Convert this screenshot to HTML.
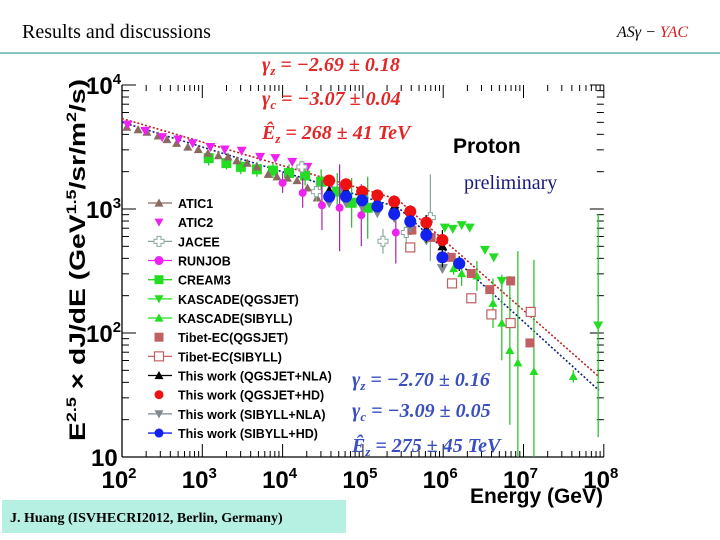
<!DOCTYPE html>
<html><head><meta charset="utf-8">
<style>
body{margin:0;background:#fff;}
#wrap{position:relative;width:720px;height:540px;overflow:hidden;background:#fff;font-family:"Liberation Sans",sans-serif;}
svg text{font-family:"Liberation Sans",sans-serif;}
svg text.serif, svg .serif text{font-family:"Liberation Serif",serif;}
</style></head><body>
<div id="wrap">
<svg id="chart" width="720" height="540" viewBox="0 0 720 540" xmlns="http://www.w3.org/2000/svg">
<text class="serif" x="22" y="38" font-size="20" fill="#000">Results and discussions</text>
<text class="serif" x="617" y="37" font-size="16" font-style="italic"><tspan fill="#000">ASγ − </tspan><tspan fill="#d02020">YAC</tspan></text>
<line x1="0" y1="53" x2="720" y2="53" stroke="#5fb5a8" stroke-width="1.5"/>
<g id="axes"></g>
<g id="fits"></g>
<g id="marks"></g>
<g id="legend"></g>
<g class="serif" font-size="20" font-weight="bold" font-style="italic" fill="#e02828">
<text x="262" y="71">γ<tspan font-size="13" dy="4">z</tspan><tspan dy="-4"> = −2.69 ± 0.18</tspan></text>
<text x="262" y="105">γ<tspan font-size="13" dy="4">c</tspan><tspan dy="-4"> = −3.07 ± 0.04</tspan></text>
<text x="262" y="139">Ê<tspan font-size="13" dy="4">z</tspan><tspan dy="-4"> = 268 ± 41 TeV</tspan></text>
</g>
<g class="serif" font-size="20" font-weight="bold" font-style="italic" fill="#3a4fc0">
<text x="352" y="386">γ<tspan font-size="13" dy="4">z</tspan><tspan dy="-4"> = −2.70 ± 0.16</tspan></text>
<text x="352" y="417">γ<tspan font-size="13" dy="4">c</tspan><tspan dy="-4"> = −3.09 ± 0.05</tspan></text>
<text x="352" y="452">Ê<tspan font-size="13" dy="4">z</tspan><tspan dy="-4"> = 275 ± 45 TeV</tspan></text>
</g>
<text x="453" y="153" font-size="21" font-weight="bold" fill="#000">Proton</text>
<text class="serif" x="464" y="189" font-size="20" fill="#1a1a7a">preliminary</text>
<text x="603" y="503" text-anchor="end" font-size="21" font-weight="bold">Energy (GeV)</text>
<text transform="translate(85,260) rotate(-90)" text-anchor="middle" font-size="22" font-weight="bold" textLength="362" lengthAdjust="spacingAndGlyphs">E<tspan font-size="14" dy="-9">2.5</tspan><tspan dy="9"> × dJ/dE (GeV</tspan><tspan font-size="14" dy="-9">1.5</tspan><tspan dy="9">/sr/m</tspan><tspan font-size="14" dy="-9">2</tspan><tspan dy="9">/s)</tspan></text>
<rect x="2" y="500" width="344" height="33" fill="#b6f0e2"/>
<text class="serif" x="10" y="522" font-size="14" font-weight="bold">J. Huang (ISVHECRI2012, Berlin, Germany)</text>
</svg>
</div>
<script>
// axis ranges (log10)
const xDecades = [2,3,4,5,6,7,8];
const yDecades = [1,2,3,4];
// data in log10(E/GeV), log10(flux)
const atic1E = [2.06,2.20,2.31,2.45,2.56,2.68,2.82,2.95,3.07,3.20,3.32,3.43,3.56,3.68,3.82,3.93,4.06,4.18,4.31,4.43];
const atic1F = [3.66,3.64,3.62,3.59,3.56,3.53,3.50,3.48,3.45,3.43,3.42,3.39,3.37,3.34,3.28,3.26,3.25,3.23,3.17,3.09];
const atic2E = [2.07,2.29,2.50,2.70,2.88,3.10,3.28,3.49,3.72,3.91,4.12,4.31,4.60,4.75];
const atic2F = [3.68,3.63,3.58,3.56,3.53,3.50,3.48,3.47,3.42,3.41,3.38,3.34,3.20,3.17];
const jaceeE = [4.24,4.42,5.25,5.54,5.84];
const jaceeF = [3.34,3.14,2.74,2.81,2.93];
const runjobE = [4.00,4.25,4.49,4.71,4.98,5.41];
const runjobF = [3.21,3.13,3.03,3.01,2.95,2.81];
const runjobErr = [0.08,0.12,0.20,0.35,0.25,0.25];
const cream3E = [3.08,3.30,3.48,3.68,3.88,4.08,4.28,4.48,4.68,4.86,5.06];
const cream3F = [3.41,3.37,3.34,3.32,3.31,3.29,3.27,3.22,3.14,3.05,3.01];
const cream3Err = [0.06,0.05,0.06,0.06,0.06,0.07,0.08,0.10,0.15,0.20,0.25];
const kqE = [6.02,6.12,6.23,6.33,6.52,6.63,6.73,7.93];
const kqF = [2.85,2.84,2.87,2.85,2.67,2.61,2.42,2.06];
const kqErr = [0.02,0.02,0.02,0.02,0.03,0.03,0.05,0.9];
const ksE = [6.13,6.23,6.42,6.62,6.73,6.83,6.93,7.13,7.62];
const ksF = [2.52,2.48,2.46,2.24,2.08,1.86,1.76,1.69,1.65];
const ksErr = [0.05,0.1,0.12,0.2,0.3,0.6,0.9,0.9,0.05];
const tqE = [5.61,5.85,6.10,6.35,6.58,6.84,7.08];
const tqF = [2.83,2.77,2.61,2.48,2.35,2.42,1.92];
const tsE = [5.59,6.11,6.35,6.60,6.84,7.09];
const tsF = [2.69,2.40,2.28,2.15,2.08,2.17];
const thisE = [4.58,4.79,4.99,5.18,5.39,5.59,5.79,5.99];
const qnlaF = [3.15,3.15,3.10,3.07,3.02,2.95,2.84,2.70];
const qhdF = [3.23,3.20,3.14,3.11,3.06,2.98,2.89,2.75];
const snlaF = [3.05,3.05,3.02,2.97,2.93,2.85,2.75,2.52];
const shdE = [4.58,4.79,4.99,5.18,5.39,5.59,5.79,5.99,6.20];
const shdF = [3.10,3.10,3.07,3.02,2.96,2.90,2.79,2.61,2.56];
const thisErr = [0.04,0.04,0.04,0.04,0.05,0.05,0.06,0.08];
// broken power-law fits: [logF at 10^2 GeV, gamma1, gamma2, log10 Ez(GeV)]
const fitQgsjet = [3.73,-2.69,-3.07,5.43];
const fitSibyll = [3.70,-2.70,-3.09,5.44];

const NS='http://www.w3.org/2000/svg';
const X0=122, XD=80.3, Y0=457, YD=124;
function sx(l){return X0+(l-2)*XD;}
function sy(l){return Y0-(l-1)*YD;}
function mk(tag,attrs,parent){const e=document.createElementNS(NS,tag);for(const k in attrs)e.setAttribute(k,attrs[k]);parent.appendChild(e);return e;}
const axes=document.getElementById('axes');
const xl=mk('line',{x1:sx(2),y1:sy(1),x2:sx(8),y2:sy(1),stroke:'#000','stroke-width':1.3},axes);


const yl=mk('line',{x1:sx(2),y1:sy(1),x2:sx(2),y2:sy(4),stroke:'#000','stroke-width':1.3},axes);


xDecades.forEach((d,i)=>{
  const tick=mk('g',{},axes);
  
  
  mk('line',{x1:sx(d),y1:sy(1),x2:sx(d),y2:sy(1)-13,stroke:'#000'},tick);
  mk('line',{x1:sx(d),y1:sy(4),x2:sx(d),y2:sy(4)+13,stroke:'#000'},tick);
  if(i<xDecades.length-1){for(let m=2;m<10;m++){const lx=sx(d+Math.log10(m));
    mk('line',{x1:lx,y1:sy(1),x2:lx,y2:sy(1)-6,stroke:'#000'},tick);
    mk('line',{x1:lx,y1:sy(4),x2:lx,y2:sy(4)+6,stroke:'#000'},tick);}}
  const t=mk('text',{x:sx(d)-3,y:488,'text-anchor':'middle','font-size':24,'font-weight':'bold'},tick);
  t.textContent='10';
  const s=mk('tspan',{'font-size':15,dy:-10},t); s.textContent=String(d);
});
yDecades.forEach((d,i)=>{
  const tick=mk('g',{},axes);
  
  
  mk('line',{x1:sx(2),y1:sy(d),x2:sx(2)+14,y2:sy(d),stroke:'#000'},tick);
  mk('line',{x1:sx(8),y1:sy(d),x2:sx(8)-14,y2:sy(d),stroke:'#000'},tick);
  if(i<yDecades.length-1){for(let m=2;m<10;m++){const ly=sy(d+Math.log10(m));
    mk('line',{x1:sx(2),y1:ly,x2:sx(2)+7,y2:ly,stroke:'#000'},tick);
    mk('line',{x1:sx(8),y1:ly,x2:sx(8)-7,y2:ly,stroke:'#000'},tick);}}
  const t=mk('text',{x:d===1?91:86,y:sy(d)+9,'font-size':24,'font-weight':'bold'},tick);
  t.textContent='10';
  if(d>1){const s=mk('tspan',{'font-size':15,dy:-10},t); s.textContent=String(d);}
});
// fits
function fitLine(p,color,name){
  let pts=[];
  for(let l=2;l<=7.94;l+=0.02){
    const g1=p[1]+2.5,g2=p[2]+2.5;
    const f=l<=p[3]?p[0]+g1*(l-2):p[0]+g1*(p[3]-2)+g2*(l-p[3]);
    pts.push(sx(l).toFixed(1)+','+sy(f).toFixed(1));
  }
  const e=mk('polyline',{points:pts.join(' '),fill:'none',stroke:color,'stroke-width':1.6,'stroke-dasharray':'2,2'},document.getElementById('fits'));
  
  
}
fitLine(fitQgsjet,'#c02020','fit-line-qgsjet');
fitLine(fitSibyll,'#102080','fit-line-sibyll');
// markers
function marker(type,color,x,y,parent,r){
  r=r||5;
  if(type==='tri') return mk('polygon',{points:`${x},${y-r} ${x-r},${y+r*0.8} ${x+r},${y+r*0.8}`,fill:color},parent);
  if(type==='itri') return mk('polygon',{points:`${x},${y+r} ${x-r},${y-r*0.8} ${x+r},${y-r*0.8}`,fill:color},parent);
  if(type==='sq') return mk('rect',{x:x-r,y:y-r,width:2*r,height:2*r,fill:color},parent);
  if(type==='osq') return mk('rect',{x:x-r,y:y-r,width:2*r,height:2*r,fill:'#fff',stroke:color,'stroke-width':1.2},parent);
  if(type==='circ') return mk('circle',{cx:x,cy:y,r:r,fill:color},parent);
  if(type==='cross') return mk('path',{d:`M${x-2},${y-5}h4v3h3v4h-3v3h-4v-3h-3v-4h3z`,fill:'#fff',stroke:color,'stroke-width':1},parent);
}
const marks=document.getElementById('marks');
function series(name,E,F,err,type,color,ecolor,r){
  const g=mk('g',{},marks);
  
  
  E.forEach((e,i)=>{
    const x=sx(e),y=sy(F[i]);
    if(err){const d=err[i];
      mk('line',{x1:x,y1:sy(F[i]+d),x2:x,y2:Math.min(sy(F[i]-d),457),stroke:ecolor,'stroke-width':1.2},g);}
    const m=marker(type,color,x,y,g,r);
    
    
  });
}
series('series-cream3',cream3E,cream3F,cream3Err,'sq','#22dd22','#22bb22',5);
series('series-atic1',atic1E,atic1F,null,'tri','#8a6a60','#8a6a60',4.5);
series('series-atic2',atic2E,atic2F,null,'itri','#ee22ee','#ee22ee',5);
series('series-jacee',jaceeE,jaceeF,[0.05,0.08,0.1,0.12,0.35],'cross','#8aa89a','#8aa89a');
series('series-runjob',runjobE,runjobF,runjobErr,'circ','#ee22ee','#aa22aa',4);
series('series-kascade-qgsjet',kqE,kqF,kqErr,'itri','#22dd22','#22bb22',5);
series('series-kascade-sibyll',ksE,ksF,ksErr,'tri','#22dd22','#22bb22',4.5);
series('series-tibet-qgsjet',tqE,tqF,null,'sq','#c06060','#c06060',4.5);
series('series-tibet-sibyll',tsE,tsF,null,'osq','#c06060','#c06060',4.5);
series('series-this-sibyll-nla',thisE,snlaF,null,'itri','#808a90','#808a90',5.5);
series('series-this-qgsjet-nla',thisE,qnlaF,thisErr,'tri','#000','#000',5);
series('series-this-qgsjet-hd',thisE,qhdF,thisErr,'circ','#ee1111','#000',6);
series('series-this-sibyll-hd',shdE,shdF,[0.04,0.04,0.04,0.04,0.05,0.05,0.06,0.08,0.06],'circ','#1122ee','#000',6);
// legend
const legItems=[['ATIC1','tri','#8a6a60',true],['ATIC2','itri','#ee22ee',false],['JACEE','cross','#8aa89a',true],['RUNJOB','circ','#ee22ee',true],['CREAM3','sq','#22dd22',true],['KASCADE(QGSJET)','itri','#22dd22',true],['KASCADE(SIBYLL)','tri','#22dd22',true],['Tibet-EC(QGSJET)','sq','#c06060',false],['Tibet-EC(SIBYLL)','osq','#c06060',true],['This work (QGSJET+NLA)','tri','#000',true],['This work (QGSJET+HD)','circ','#ee1111',false],['This work (SIBYLL+NLA)','itri','#808a90',true],['This work (SIBYLL+HD)','circ','#1122ee',true]];
const leg=document.getElementById('legend');
legItems.forEach((it,i)=>{
  const y=203+i*19.17;
  const g=mk('g',{},leg);
  
  
  if(it[3]) mk('line',{x1:148,y1:y,x2:172,y2:y,stroke:it[2],'stroke-width':1.3},g);
  marker(it[1],it[2],159,y,g,4.5);
  const t=mk('text',{x:178,y:y+5,'font-size':12.5,'font-weight':'bold'},g);
  t.textContent=it[0];
});
</script>
</body></html>
